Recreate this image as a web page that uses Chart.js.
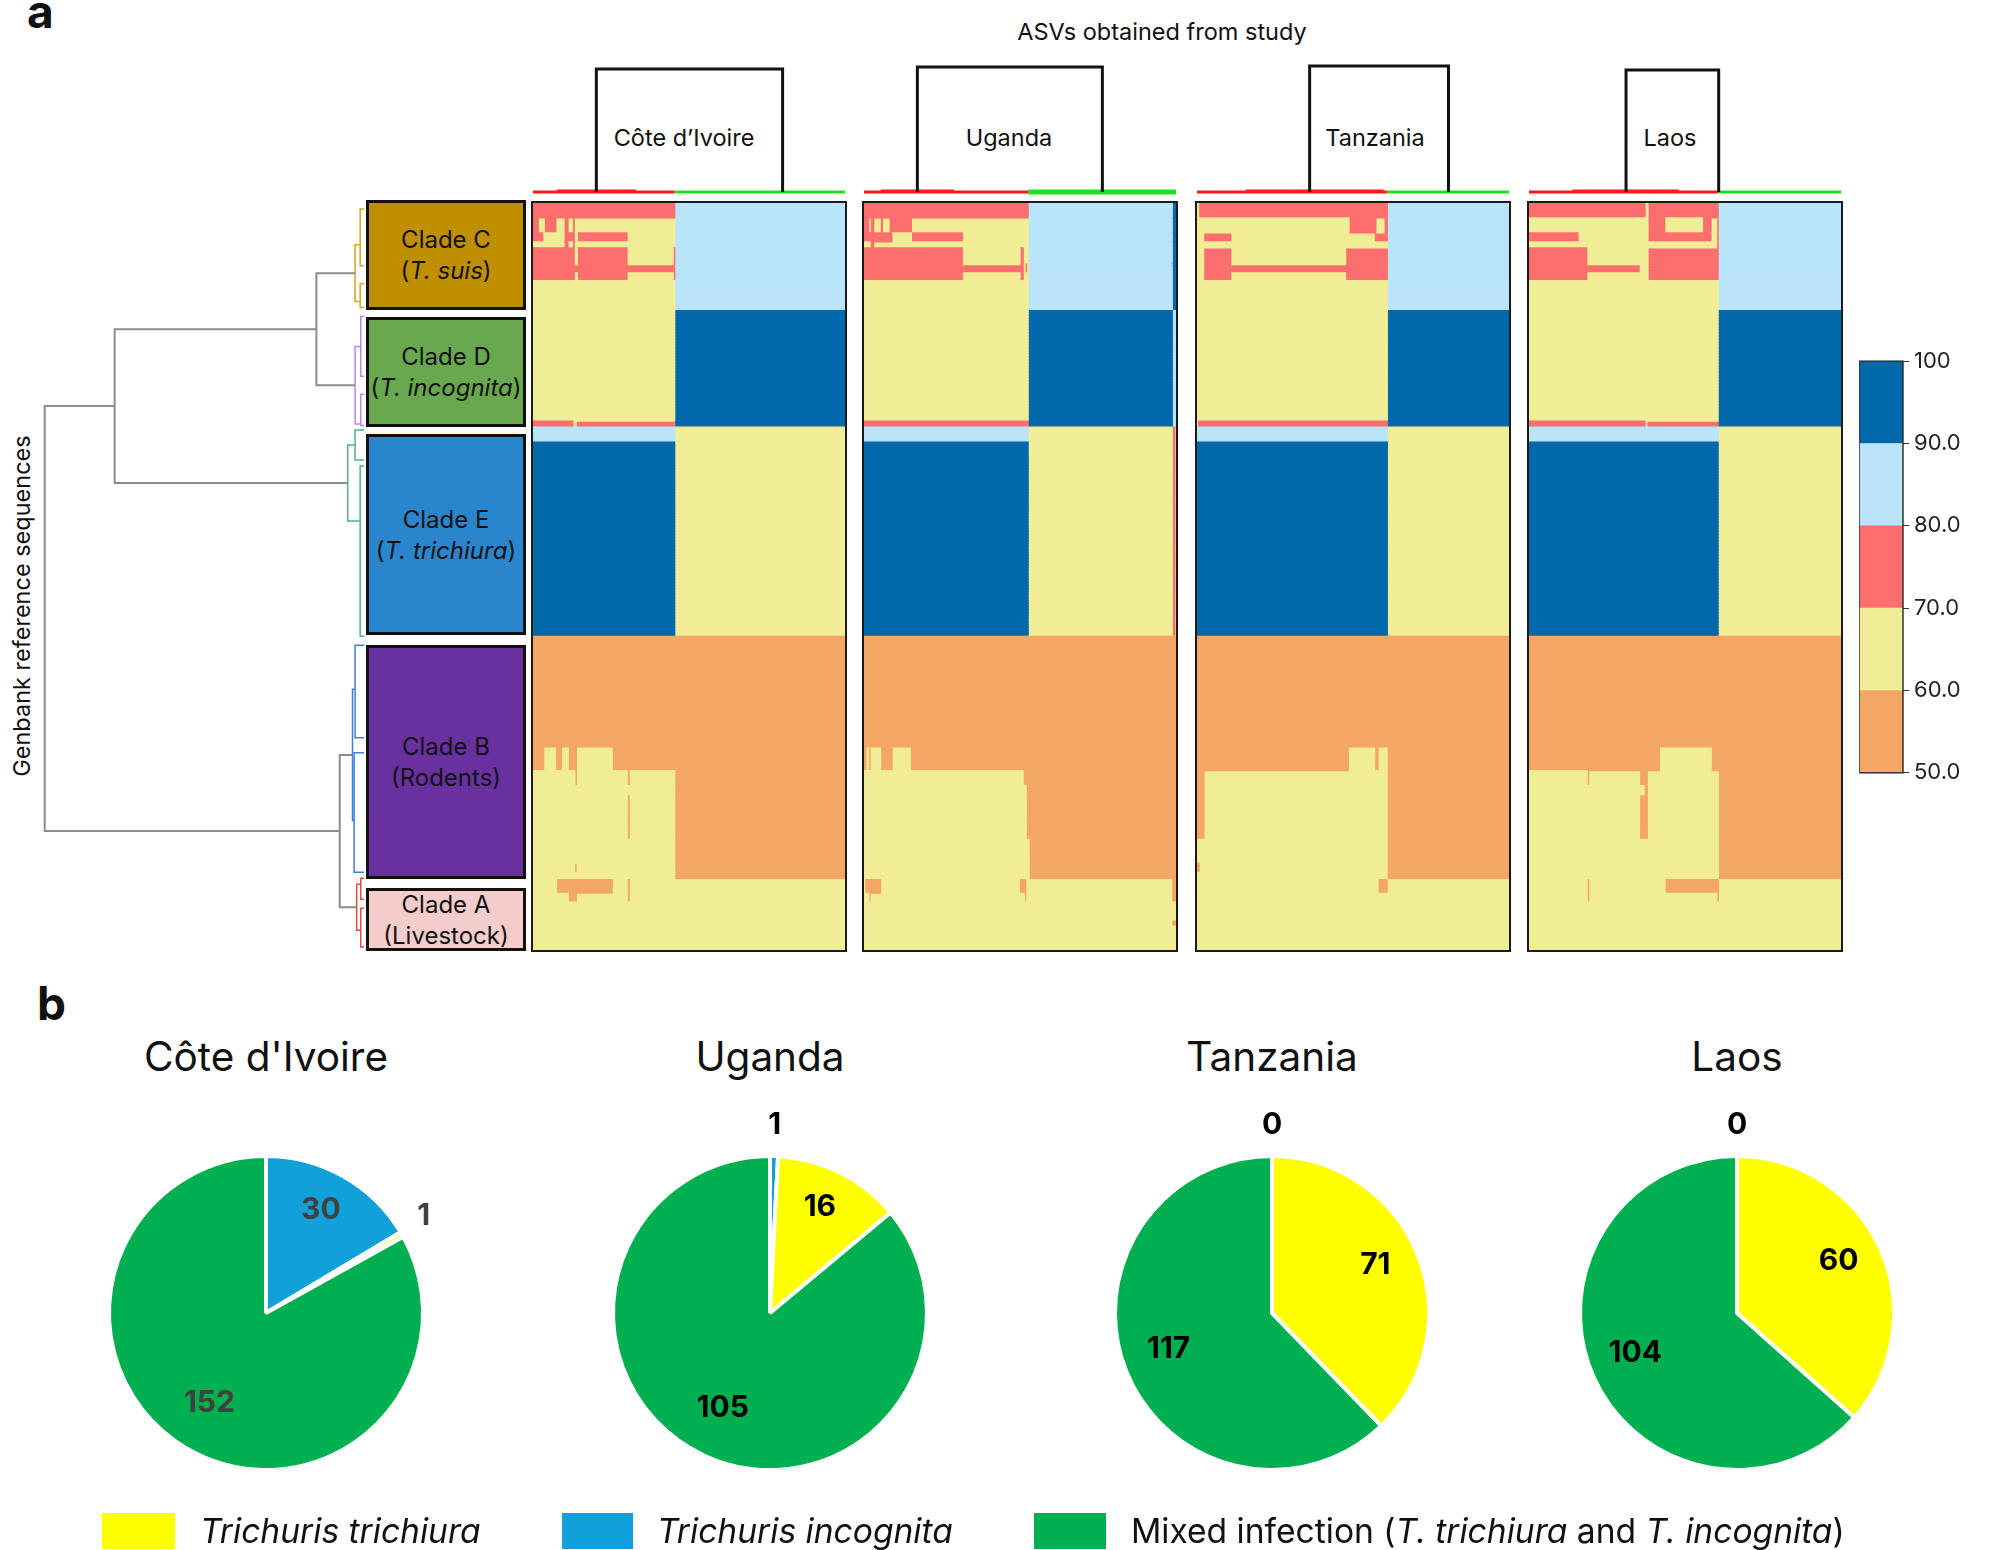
<!DOCTYPE html>
<html><head><meta charset="utf-8">
<script src="https://cdn.jsdelivr.net/npm/chart.js@4.4.1/dist/chart.umd.min.js"></script>
<style>
html,body{margin:0;padding:0;background:#fff;}
#fig{position:relative;width:2000px;height:1550px;overflow:hidden;font-family:Inter,'Noto Sans',sans-serif;color:#111;background:#fff;}
.abs{position:absolute;}
canvas{display:block;}
.panel{position:absolute;top:201px;width:316px;height:751px;border:2px solid #1b1b1b;box-sizing:border-box;}
.clade{position:absolute;left:366px;width:160px;border:3px solid #111;box-sizing:border-box;display:flex;align-items:center;justify-content:center;text-align:center;font-size:24px;line-height:31px;color:#111;}
.ctext{position:absolute;text-align:center;font-size:23.5px;line-height:28px;white-space:nowrap;}
.ptitle{position:absolute;width:500px;text-align:center;font-size:40.5px;line-height:48px;top:1033px;white-space:nowrap;}
.lbox{position:absolute;top:1513px;height:36px;}
.ltext{position:absolute;top:1510px;font-size:33.6px;line-height:42px;white-space:nowrap;}
</style>
</head>
<body>
<div id="fig">
  <div class="abs" style="left:27px;top:-12px;font-size:46px;font-weight:700;line-height:46px;">a</div>
  <div class="abs" style="left:37px;top:980px;font-size:46px;font-weight:700;line-height:46px;">b</div>
  <div class="ctext" style="left:962px;width:400px;top:18px;">ASVs obtained from study</div>
  <div class="ctext" style="left:534px;width:300px;top:124px;">Côte d’Ivoire</div>
  <div class="ctext" style="left:859px;width:300px;top:124px;">Uganda</div>
  <div class="ctext" style="left:1225px;width:300px;top:124px;">Tanzania</div>
  <div class="ctext" style="left:1520px;width:300px;top:124px;">Laos</div>
  <div class="abs" style="left:22px;top:606px;width:0;height:0;">
    <div style="position:absolute;left:-200px;top:-14px;width:400px;text-align:center;font-size:23.5px;line-height:28px;transform:rotate(-90deg);white-space:nowrap;">Genbank reference sequences</div>
  </div>

  <canvas id="rowDendro" class="abs" style="left:0;top:203px;" width="364" height="747"></canvas>

  <div class="clade" style="top:200px;height:110px;background:#BF8F00;"><div>Clade C<br>(<i>T. suis</i>)</div></div>
  <div class="clade" style="top:317px;height:110px;background:#6AA84F;"><div>Clade D<br>(<i>T. incognita</i>)</div></div>
  <div class="clade" style="top:434px;height:201px;background:#2A86CC;"><div>Clade E<br>(<i>T. trichiura</i>)</div></div>
  <div class="clade" style="top:645px;height:234px;background:#6930A0;"><div>Clade B<br>(Rodents)</div></div>
  <div class="clade" style="top:888px;height:63px;background:#F4CCCC;"><div>Clade A<br>(Livestock)</div></div>

  <div id="panels"></div>

  <canvas id="colorbar" class="abs" style="left:1859px;top:343px;" width="124" height="448"></canvas>

  <div class="ptitle" style="left:16px;">Côte d'Ivoire</div>
  <div class="ptitle" style="left:520px;">Uganda</div>
  <div class="ptitle" style="left:1022px;">Tanzania</div>
  <div class="ptitle" style="left:1487px;">Laos</div>
  <div id="pies"></div>

  <div class="lbox" style="left:102px;width:73px;background:#FFFF00;"></div>
  <div class="ltext" style="left:200px;"><i>Trichuris trichiura</i></div>
  <div class="lbox" style="left:562px;width:71px;background:#12A0D8;"></div>
  <div class="ltext" style="left:657px;"><i>Trichuris incognita</i></div>
  <div class="lbox" style="left:1034px;width:72px;background:#00B050;"></div>
  <div class="ltext" style="left:1131px;">Mixed infection (<i>T. trichiura</i> and <i>T. incognita</i>)</div>
</div>

<script>
// ---------------- DATA ----------------
const HEAT_ROWS = 250; // reference-sequence rows (top = clade C, bottom = clade A)
const binEdges = [50, 60, 70, 80, 90, 100];
const binColors = ['#F4A665', '#F1ED97', '#FD6F6F', '#B9E4FA', '#0068AB'];
const colorbarTicks = [50, 60, 70, 80, 90, 100];

// heatmap cells: [asvStart, asvEnd, refRowStart, refRowEnd, % identity]; later cells paint over earlier ones
const heatCote = [
  [45.4,100,0,36.2,85],[45.4,100,36.2,75.1,95],[45.4,100,75.1,145.5,65],[45.4,100,145.5,226.2,55],[45.4,100,226.2,250,65],
  [0,45.4,0,72.7,65],[0,45.4,72.7,75.1,75],[12.8,13.9,72.7,75.1,65],[0,45.4,75.1,80.4,85],[0,45.4,80.4,145.5,95],
  [0,45.4,145.5,189.9,55],[0,45.4,189.9,250,65],
  [0,45.4,0,4.9,75],[0,1.7,4.9,12.9,75],[0,3.1,10.2,12.9,75],[3.6,7.3,4.9,10.2,75],[9.9,11.2,4.9,15.4,75],[12.6,13.2,4.9,15.4,75],
  [9.9,13.2,10.2,12.9,75],[14.2,30.1,10.4,12.9,75],
  [0,13.2,15.4,25.8,75],[14.2,30.1,15.4,25.8,75],[13.2,14.2,20.7,23.1,75],[30.1,45.4,20.7,23.1,75],[44.9,45.4,15.4,25.8,75],
  [3.4,7.2,181.9,189.9,65],[9.1,11.3,181.9,189.9,65],[13.9,25.4,181.9,189.9,65],
  [13.4,13.9,189.9,194.9,55],[30.2,30.8,189.9,194.9,55],[30.2,30.8,197.7,213.2,55],[13.3,13.8,221,223.8,55],
  [7.5,25.4,226.2,231.3,55],[11.3,13.9,231.3,233.8,55],[30.2,30.8,226.2,233.8,55]
];
const heatUganda = [
  [52.6,100,0,36.2,85],[52.6,100,36.2,75.1,95],[52.6,100,75.1,145.5,65],[52.6,100,145.5,226.2,55],[52.6,100,226.2,250,65],
  [98.8,100,0,36.2,95],[98.8,100,36.2,75.1,85],[98.8,99.6,75.1,145.5,75],[98.6,100,226.2,233.8,55],[98.6,100,240,242.2,55],
  [0,52.6,0,72.7,65],[0,52.6,72.7,75.1,75],[0,52.6,75.1,80.4,85],[0,52.6,80.4,145.5,95],
  [0,52.6,145.5,226.2,55],[0,52.6,226.2,250,65],[0,51,189.9,226.2,65],[51,52,194.9,226.2,65],[52,52.9,213.2,226.2,65],
  [0,52.6,0,4.9,75],[0,1.5,4.9,10.2,75],[2,3.1,4.9,10.2,75],[5.2,5.9,4.9,10.2,75],[8,15.2,4.9,10.2,75],
  [0,8.9,10.2,12.6,75],[15.2,31.5,10.2,12.6,75],[2,3.1,12.6,15.4,75],
  [0,31.5,15.4,25.8,75],[31.5,51,20.7,23.1,75],[50,51,15.4,25.8,75],[51.6,52.1,20,23,75],
  [0.6,1.4,181.9,189.9,65],[1.9,5.3,181.9,189.9,65],[9,14.8,181.9,189.9,65],
  [0.2,5.3,226.2,231.3,55],[1.5,1.9,231.3,233.8,55],[49.8,51.8,226.2,231.3,55],[51.4,51.8,231.3,233.8,55]
];
const heatTanzania = [
  [61,100,0,36.2,85],[61,100,36.2,75.1,95],[61,100,75.1,145.5,65],[61,100,145.5,226.2,55],[61,100,226.2,250,65],
  [0,61,0,72.7,65],[0.5,61,72.7,75.1,75],[0,61,75.1,80.4,85],[0,61,80.4,145.5,95],
  [0,61,145.5,226.2,55],[0,61,226.2,250,65],[2.2,60.9,189.9,226.2,65],[0,2.2,213.2,226.2,65],[0,0.7,221,223.8,55],
  [0.5,61,0,4.9,75],[48.7,57.3,4.9,10.2,75],[59.9,61,4.9,10.2,75],[2.1,10.8,10.2,12.6,75],[56.8,61,10.2,12.6,75],
  [2.1,10.8,15.4,25.8,75],[47.6,61,15.4,25.8,75],[10.8,47.6,20.7,23.1,75],
  [48.5,56.9,181.9,189.9,65],[58,60.9,181.9,189.9,65],[58,60.9,226.2,231.3,55]
];
const heatLaos = [
  [60.6,100,0,36.2,85],[60.6,100,36.2,75.1,95],[60.6,100,75.1,145.5,65],[60.6,100,145.5,226.2,55],[60.6,100,226.2,250,65],
  [0,60.6,0,72.7,65],[0,37.2,72.7,75.1,75],[38.1,60.6,72.7,75.1,75],[0,60.6,75.1,80.4,85],[0,60.6,80.4,145.5,95],
  [0,60.6,145.5,226.2,55],[0,60.6,226.2,250,65],[0,60.7,189.9,226.2,65],
  [0,37.2,0,4.9,75],[38.1,60.6,0,4.9,75],[38.1,43.5,4.9,12.6,75],[42,56.7,10.2,12.6,75],[55.6,58.3,4.9,12.6,75],[60.1,60.6,4.9,25.8,75],
  [0,15.7,10.2,12.6,75],[0,18.5,15.4,25.8,75],[38.1,60.6,15.4,25.8,75],[18.5,35.3,20.7,23.1,75],
  [41.8,58.4,181.9,189.9,65],[18.6,19.1,189.9,194.9,55],[35.4,37.9,189.9,213.2,55],[35.4,36.9,194.9,197.7,65],
  [43.6,60.7,226.2,231.3,55],[18.6,19.1,226.2,233.8,55],[60.2,60.7,231.3,233.8,55]
];
const heatPanels = [heatCote, heatUganda, heatTanzania, heatLaos];

// column dendrograms (ASV clustering), in ASV units 0-100 per panel
const colLegLeft = [20.3, 17.1, 36.1, 31.1];
const colLegRight = [80.0, 76.4, 80.6, 60.8];
const colMergeHeight = [1.0, 1.016, 1.024, 0.992];
const colSplit = [45.4, 52.6, 61.0, 60.6];
const colInnerRed = [[7.6, 33.0], [5.4, 28.8], [15.6, 59.8], [13.9, 48.1]];

// row dendrogram (reference sequences): clade nodes {height, row}
const cladeNodes = {C: {h: 0.028, row: 23.5}, D: {h: 0.028, row: 61}, E: {h: 0.051, row: 93.7}, B: {h: 0.036, row: 184.7}, A: {h: 0.023, row: 235.7}};
const mergeNodes = [['CD', 'C', 'D', 0.149], ['CDE', 'CD', 'E', 0.781], ['BA', 'B', 'A', 0.076], ['root', 'CDE', 'BA', 1.0]];
// colored sub-clusters per clade: [clade, color, [childRow, childH, spanStart, spanEnd] x2]
const cladeSubtrees = [
  ['C', '#D9A520', [14, 0.012, 2, 21], [33, 0.012, 27, 35]],
  ['D', '#B48AE6', [48, 0.010, 38, 58], [74, 0.010, 64, 74.5]],
  ['E', '#4CB486', [81, 0.028, 76, 86], [106.4, 0.012, 88, 145]],
  ['B', '#3C7EE0', [162.7, 0.028, 148, 179], [206.7, 0.031, 184, 224]],
  ['A', '#E54848', [228, 0.010, 226, 233], [243.4, 0.010, 236, 249]]
];

// pies
const pieCountries = ["Côte d'Ivoire", 'Uganda', 'Tanzania', 'Laos'];
const pieCategories = ['Trichuris incognita', 'Trichuris trichiura', 'Mixed infection'];
const pieIncognita = [30, 1, 0, 0];
const pieTrichiura = [1, 16, 71, 60];
const pieMixed = [152, 105, 117, 104];
const pieColors = ['#12A0D8', '#FFFF00', '#00B050'];

// ---------------- LAYOUT ----------------
const panelLeft = [531, 862, 1195, 1527];
const pieCenterX = [266, 770, 1272, 1737];
const pieCenterY = 1313;
const pieRadius = 157;
const pieLabelColor = ['#404040', '#000', '#000', '#000'];

Chart.defaults.font.family = "Inter, 'Noto Sans', sans-serif";
Chart.defaults.animation = false;

function colorFor(v) {
  for (let i = 0; i < binColors.length; i++) if (v < binEdges[i + 1]) return binColors[i];
  return binColors[binColors.length - 1];
}

function paintRows(cells) {
  const rows = [];
  for (let r = 0; r < HEAT_ROWS; r++) {
    const yc = r + 0.5;
    let segs = [];
    for (const [c0, c1, r0, r1, v] of cells) {
      if (yc < r0 || yc >= r1) continue;
      const next = [];
      for (const s of segs) {
        if (s[1] <= c0 || s[0] >= c1) { next.push(s); continue; }
        if (s[0] < c0) next.push([s[0], c0, s[2]]);
        if (s[1] > c1) next.push([c1, s[1], s[2]]);
      }
      next.push([c0, c1, v]);
      next.sort((a, b) => a[0] - b[0]);
      segs = next;
    }
    const merged = [];
    for (const s of segs) {
      const last = merged[merged.length - 1];
      if (last && colorFor(last[2]) === colorFor(s[2]) && Math.abs(last[1] - s[0]) < 1e-6) last[1] = s[1];
      else merged.push(s.slice());
    }
    rows.push(merged);
  }
  return rows;
}

const noPlugins = {legend: {display: false}, tooltip: {enabled: false}, title: {display: false}};
const line = (pts, color, w) => ({data: pts, showLine: true, borderColor: color, borderWidth: w, pointRadius: 0, clip: false, borderJoinStyle: 'miter', borderCapStyle: 'butt'});
const panelsDiv = document.getElementById('panels');
const rowLabels = Array.from({length: HEAT_ROWS}, (_, i) => 'ref' + (i + 1));

heatPanels.forEach((cells, p) => {
  // heatmap panel
  const box = document.createElement('div');
  box.className = 'panel';
  box.style.left = panelLeft[p] + 'px';
  const cv = document.createElement('canvas');
  cv.width = 312; cv.height = 747;
  box.appendChild(cv);
  panelsDiv.appendChild(box);
  const rows = paintRows(cells);
  const maxSeg = Math.max(...rows.map(r => r.length));
  const datasets = [];
  for (let k = 0; k < maxSeg; k++) {
    datasets.push({
      data: rows.map(r => r[k] ? [r[k][0], r[k][1]] : null),
      backgroundColor: rows.map(r => r[k] ? colorFor(r[k][2]) : 'rgba(0,0,0,0)'),
      borderWidth: 0, barPercentage: 1, categoryPercentage: 1, grouped: false, inflateAmount: 0.6
    });
  }
  new Chart(cv, {
    type: 'bar',
    data: {labels: rowLabels, datasets},
    options: {
      indexAxis: 'y', responsive: false, events: [], layout: {padding: 0}, plugins: noPlugins,
      scales: {x: {type: 'linear', min: 0, max: 100, display: false}, y: {type: 'category', display: false, offset: true}}
    }
  });

  // column dendrogram
  const dc = document.createElement('canvas');
  dc.width = 312; dc.height = 145;
  dc.className = 'abs';
  dc.style.left = (panelLeft[p] + 2) + 'px';
  dc.style.top = '55px';
  panelsDiv.appendChild(dc);
  const L = colLegLeft[p], R = colLegRight[p], H = colMergeHeight[p], S = colSplit[p];
  new Chart(dc, {
    type: 'scatter',
    data: {datasets: [
      line([{x: L, y: 0}, {x: L, y: H}, {x: R, y: H}, {x: R, y: 0}], '#111', 3),
      line([{x: 0, y: 0}, {x: S, y: 0}], '#FF1A1A', 3),
      line([{x: colInnerRed[p][0], y: 0.012}, {x: colInnerRed[p][1], y: 0.012}], '#FF1A1A', 2),
      line([{x: S, y: 0}, {x: 100, y: 0}], '#1EE01E', p === 1 ? 5 : 3)
    ]},
    options: {
      responsive: false, events: [], layout: {padding: 0}, plugins: noPlugins,
      scales: {x: {type: 'linear', min: 0, max: 100, display: false}, y: {type: 'linear', min: -0.065, max: 1.114, display: false}}
    }
  });
});

// row dendrogram
(function () {
  const nodes = {};
  Object.keys(cladeNodes).forEach(k => nodes[k] = {...cladeNodes[k]});
  const datasets = [];
  mergeNodes.forEach(([name, a, b, h]) => {
    const na = nodes[a], nb = nodes[b];
    nodes[name] = {h, row: (na.row + nb.row) / 2};
    datasets.push(line([{x: na.h, y: na.row}, {x: h, y: na.row}, {x: h, y: nb.row}, {x: nb.h, y: nb.row}], '#8C8C8C', 2));
  });
  cladeSubtrees.forEach(([clade, color, c1, c2]) => {
    const n = cladeNodes[clade];
    datasets.push(line([{x: c1[1], y: c1[0]}, {x: n.h, y: c1[0]}, {x: n.h, y: c2[0]}, {x: c2[1], y: c2[0]}], color, 1.5));
    [c1, c2].forEach(c => {
      datasets.push(line([{x: 0, y: c[2]}, {x: c[1], y: c[2]}, {x: c[1], y: c[3]}, {x: 0, y: c[3]}], color, 1.5));
    });
  });
  new Chart(document.getElementById('rowDendro'), {
    type: 'scatter',
    data: {datasets},
    options: {
      responsive: false, events: [], layout: {padding: 0}, plugins: noPlugins,
      scales: {x: {type: 'linear', min: 0, max: 1.14, reverse: true, display: false}, y: {type: 'linear', min: 0, max: HEAT_ROWS, reverse: true, display: false}}
    }
  });
})();

// colour key
const areaBorder = {
  id: 'areaBorder',
  afterDatasetsDraw(chart) {
    const {ctx, chartArea: a} = chart;
    ctx.save(); ctx.strokeStyle = '#333'; ctx.lineWidth = 1.5;
    ctx.strokeRect(a.left, a.top, a.right - a.left, a.bottom - a.top);
    ctx.restore();
  }
};
new Chart(document.getElementById('colorbar'), {
  type: 'bar',
  data: {labels: [''], datasets: binColors.map((c, i) => ({data: [[binEdges[i], binEdges[i + 1]]], backgroundColor: c, borderWidth: 0, barPercentage: 1, categoryPercentage: 1, grouped: false}))},
  options: {
    responsive: false, events: [], layout: {padding: {top: 15, bottom: 15, left: 0, right: 0}}, plugins: noPlugins,
    scales: {
      x: {display: false},
      y: {
        position: 'right', min: colorbarTicks[0], max: colorbarTicks[colorbarTicks.length - 1],
        afterBuildTicks: s => { s.ticks = colorbarTicks.map(v => ({value: v})); },
        ticks: {callback: v => v === 100 ? '100' : Number(v).toFixed(1), font: {size: 22}, color: '#222', padding: 5},
        grid: {drawOnChartArea: false, drawTicks: true, tickLength: 6, color: '#333'},
        border: {display: false},
        afterFit: s => { s.width = 80; }
      }
    }
  },
  plugins: [areaBorder]
});

// pies
const pieLabels = {
  id: 'pieLabels',
  afterDatasetsDraw(chart, args, opts) {
    const {ctx} = chart;
    const meta = chart.getDatasetMeta(0);
    const vals = chart.data.datasets[0].data;
    ctx.save();
    ctx.font = "bold 30px Inter, 'Noto Sans', sans-serif";
    ctx.fillStyle = opts.color;
    ctx.textAlign = 'center'; ctx.textBaseline = 'middle';
    meta.data.forEach((arc, i) => {
      const {x, y, startAngle, endAngle, outerRadius} = arc.getProps(['x', 'y', 'startAngle', 'endAngle', 'outerRadius'], true);
      const mid = (startAngle + endAngle) / 2;
      const rr = vals[i] <= 1 ? outerRadius * 1.16 : outerRadius * 0.71;
      ctx.fillText(String(vals[i]), x + Math.cos(mid) * rr, y + Math.sin(mid) * rr - 6);
    });
    ctx.restore();
  }
};
const piesDiv = document.getElementById('pies');
pieCountries.forEach((name, i) => {
  const cv = document.createElement('canvas');
  cv.width = 440; cv.height = 440;
  cv.className = 'abs';
  cv.style.left = (pieCenterX[i] - 220) + 'px';
  cv.style.top = (pieCenterY - 220) + 'px';
  piesDiv.appendChild(cv);
  new Chart(cv, {
    type: 'pie',
    data: {labels: pieCategories, datasets: [{data: [pieIncognita[i], pieTrichiura[i], pieMixed[i]], backgroundColor: pieColors, borderColor: '#fff', borderWidth: 4, radius: pieRadius}]},
    options: {responsive: false, events: [], layout: {padding: 0}, plugins: {...noPlugins, pieLabels: {color: pieLabelColor[i]}}},
    plugins: [pieLabels]
  });
});
</script>
</body></html>
